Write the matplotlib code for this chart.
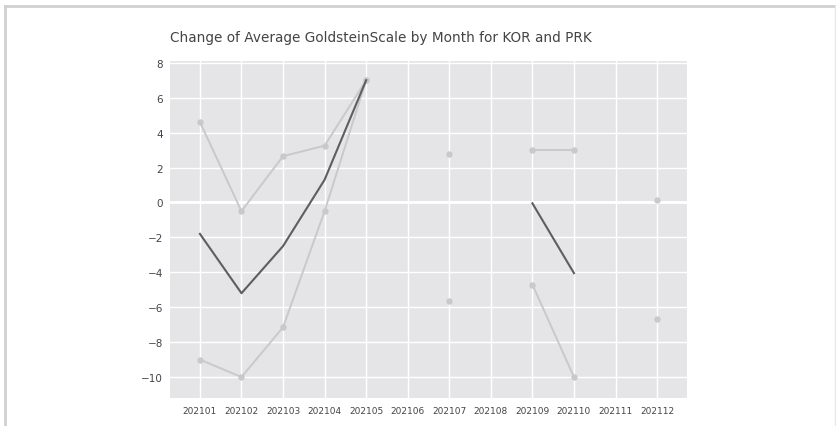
import numpy as np
import matplotlib
matplotlib.use("Agg")
import matplotlib.pyplot as plt
from matplotlib.lines import Line2D

months = ["202101", "202102", "202103", "202104", "202105", "202106",
          "202107", "202108", "202109", "202110", "202111", "202112"]
nan = np.nan
upper = [4.6, -0.5, 2.65, 3.25, 7.0, nan, 2.8, nan, 3.0, 3.0, nan, 0.15]
lower = [-9.0, -10.0, -7.15, -0.5, 7.0, nan, -5.65, nan, -4.7, -10.0, nan, -6.65]
average = [-1.8, -5.2, -2.5, 1.3, 7.0, nan, nan, nan, -0.05, -4.05, nan, nan]
yticks = [8, 6, 4, 2, 0, -2, -4, -6, -8, -10]
title = "Change of Average GoldsteinScale by Month for KOR and PRK"

W, H = 837, 427
fig = plt.figure(figsize=(W / 100, H / 100), dpi=100)
ax = fig.add_axes([170 / W, 1 - 399 / H, (687 - 170) / W, (399 - 62) / H])
ax.set_facecolor("#e5e5e8")
for s in ax.spines.values():
    s.set_visible(False)

x = np.arange(len(months))
light = "#c9c9c9"
ax.plot(x, upper, color=light, lw=1.4, marker="o", ms=3.6, zorder=3)
ax.plot(x, lower, color=light, lw=1.4, marker="o", ms=3.6, zorder=3)
ax.plot(x, average, color="#5e5e5e", lw=1.5, zorder=4)

ax.set_xlim(-0.72, 11.72)
ax.set_ylim(-11.2, 8.1)
ax.set_xticks(x)
ax.set_xticklabels(months)
ax.set_yticks(yticks)
ax.set_yticklabels([str(v).replace("-", "\u2212") for v in yticks])
ax.grid(True, color="white", lw=1.0)
ax.axhline(0, color="white", lw=2.0, zorder=1)
ax.set_axisbelow(True)
ax.tick_params(axis="x", length=0, pad=6, labelsize=6.5, colors="#444444")
ax.tick_params(axis="y", length=0, pad=5, labelsize=7.5, colors="#444444")

fig.text(170 / W, 1 - 38 / H, title, fontsize=9.85, color="#444444",
         ha="left", va="center")

# outer frame
fig.add_artist(Line2D([5 / W, 1], [1 - 7 / H, 1 - 7 / H], color="#d0d0d0", lw=2,
                      transform=fig.transFigure))
fig.add_artist(Line2D([5 / W, 5 / W], [0, 1 - 7 / H], color="#d0d0d0", lw=2,
                      transform=fig.transFigure))
fig.add_artist(Line2D([835.5 / W, 835.5 / W], [0, 1 - 7 / H], color="#e6e6e6", lw=1,
                      transform=fig.transFigure))

fig.savefig("out.png", dpi=100)
